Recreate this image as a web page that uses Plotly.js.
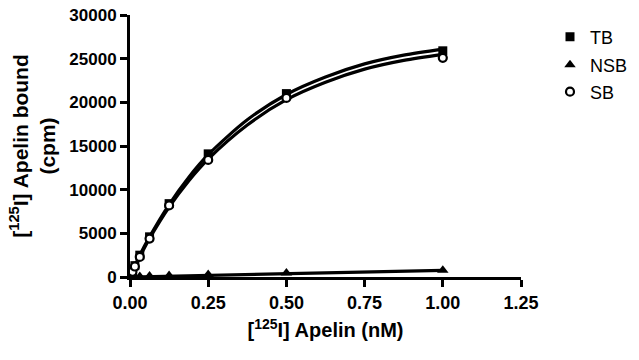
<!DOCTYPE html>
<html>
<head>
<meta charset="utf-8">
<script src="https://cdn.plot.ly/plotly-3.0.1.min.js"></script>
<style>html,body{margin:0;padding:0;background:#fff;}#chart{width:639px;height:360px;}</style>
</head>
<body>
<div id="chart"></div>
<script>
// Measured concentrations (nM)
const conc = [0.0078, 0.0156, 0.03125, 0.0625, 0.125, 0.25, 0.5, 1.0];
// Data points (cpm)
const tbValues  = [700, 1300, 2500, 4600, 8400, 14100, 21000, 25900];
const nsbValues = [20, 40, 70, 110, 170, 280, 450, 780];
const sbValues  = [600, 1200, 2300, 4400, 8200, 13400, 20500, 25100];
// Fitted curves
const fitX     = [0, 0.0078, 0.0156, 0.03125, 0.0625, 0.125, 0.1875, 0.25, 0.375, 0.5, 0.625, 0.75, 0.875, 1.0];
const fitTB    = [0, 650, 1300, 2500, 4600, 8300, 11400, 14000, 18000, 20900, 22900, 24400, 25400, 26100];
const fitSB    = [0, 600, 1200, 2300, 4400, 8000, 11000, 13500, 17400, 20300, 22300, 23800, 24800, 25500];
const fitNSBx  = [0, 1.0];
const fitNSB   = [0, 750];
// Axis ticks
const xTicks = [0, 0.25, 0.5, 0.75, 1.0, 1.25];
const xTickText = ['0.00', '0.25', '0.50', '0.75', '1.00', '1.25'];
const yTicks = [0, 5000, 10000, 15000, 20000, 25000, 30000];
const yTickText = ['0', '5000', '10000', '15000', '20000', '25000', '30000'];
const seriesNames = ['TB', 'NSB', 'SB'];

const fontFam = 'Liberation Sans, Arial, sans-serif';
const lineStyle = {color: '#000', width: 3.2, shape: 'spline', smoothing: 0.8};

const traces = [
  {x: fitX, y: fitTB, mode: 'lines', line: lineStyle, showlegend: false, hoverinfo: 'skip'},
  {x: fitX, y: fitSB, mode: 'lines', line: lineStyle, showlegend: false, hoverinfo: 'skip'},
  {x: fitNSBx, y: fitNSB, mode: 'lines', line: {color: '#000', width: 3.2}, showlegend: false, hoverinfo: 'skip'},
  {x: conc, y: tbValues, name: seriesNames[0], mode: 'markers', legend: 'legend',
   marker: {symbol: 'square', size: 9, color: '#000'}},
  {x: conc, y: nsbValues, name: seriesNames[1], mode: 'markers', legend: 'legend2',
   marker: {symbol: 'triangle-up', size: 10, color: '#000'}},
  {x: conc, y: sbValues, name: seriesNames[2], mode: 'markers', legend: 'legend3',
   marker: {symbol: 'circle', size: 8, color: '#fff', line: {color: '#000', width: 2.2}}}
];

const legBase = {
  xref: 'container', yref: 'container',
  xanchor: 'left', yanchor: 'middle', x: 550 / 639,
  font: {family: fontFam, size: 18, color: '#000'},
  bgcolor: 'rgba(0,0,0,0)', borderwidth: 0, tracegroupgap: 0
};

const layout = {
  width: 639, height: 360,
  margin: {l: 130, r: 118, t: 15, b: 83},
  paper_bgcolor: '#fff', plot_bgcolor: '#fff',
  showlegend: true,
  legend:  Object.assign({}, legBase, {y: 1 - 37 / 360}),
  legend2: Object.assign({}, legBase, {y: 1 - 65 / 360}),
  legend3: Object.assign({}, legBase, {y: 1 - 92 / 360}),
  xaxis: {
    range: [0, 1.25], tickvals: xTicks, ticktext: xTickText,
    showgrid: false, zeroline: false, automargin: false,
    showline: true, linecolor: '#000', linewidth: 3,
    ticks: 'outside', ticklen: 7, tickwidth: 3, tickcolor: '#000',
    tickfont: {family: fontFam, size: 18, color: '#000', weight: 'bold'},
    title: {text: '[<sup>125</sup>I] Apelin (nM)', standoff: 12,
            font: {family: fontFam, size: 20, color: '#000', weight: 'bold'}}
  },
  yaxis: {
    range: [0, 30000], tickvals: yTicks, ticktext: yTickText,
    showgrid: false, zeroline: false, automargin: false,
    showline: true, linecolor: '#000', linewidth: 3,
    ticks: 'outside', ticklen: 7, tickwidth: 3, tickcolor: '#000',
    tickfont: {family: fontFam, size: 17, color: '#000', weight: 'bold'},
    title: {text: '[<sup>125</sup>I] Apelin bound<br>(cpm)', standoff: 8,
            font: {family: fontFam, size: 21, color: '#000', weight: 'bold'}}
  }
};

Plotly.newPlot('chart', traces, layout, {displayModeBar: false, staticPlot: true});
</script>
</body>
</html>
